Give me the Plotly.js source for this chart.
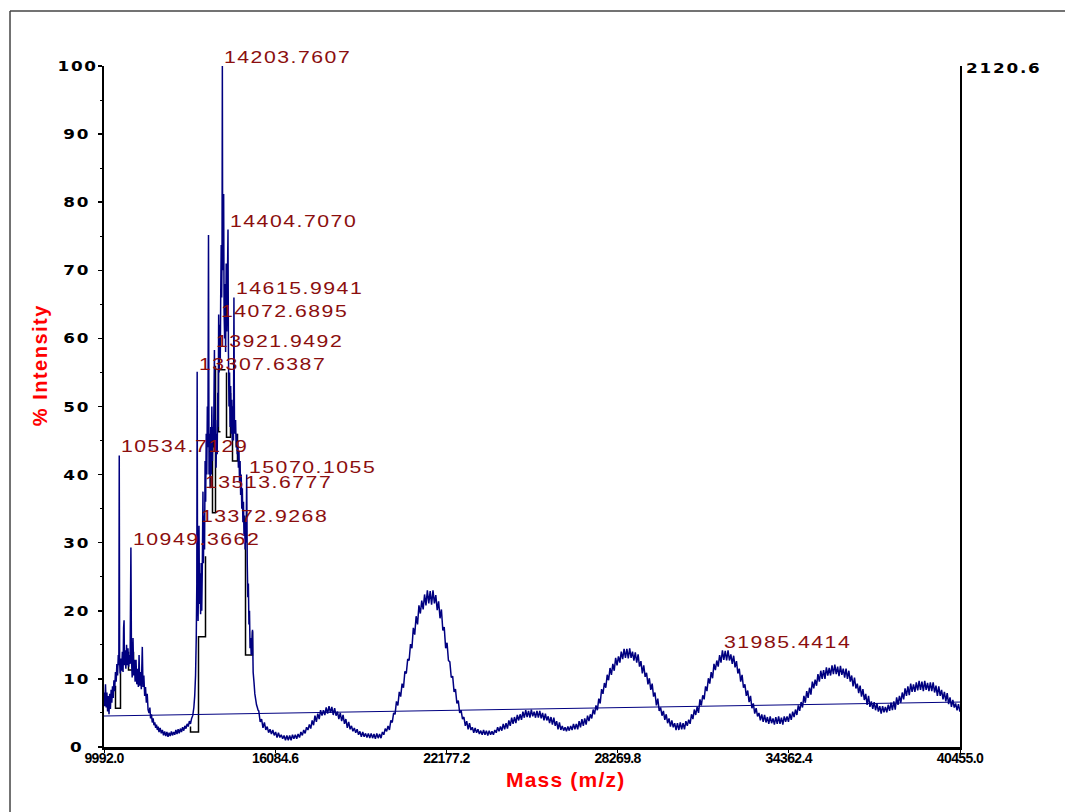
<!DOCTYPE html>
<html><head><meta charset="utf-8">
<script src="https://cdn.plot.ly/plotly-3.0.1.min.js"></script>
<style>
html,body{margin:0;padding:0;background:#fff;}
#chart{width:1065px;height:812px;}
.xtick text{letter-spacing:-0.6px;}
</style></head>
<body><div id="chart"></div>
<script>
// ---- spectrum, low-mass part (m/z, % intensity) ----
const massLow = [
9992,10020,10045,10070,10095,10120,10145,10170,10195,10220,
10245,10270,10295,10320,10345,10370,10400,10425,10450,10475,
10500,10520,10534.7,10548,10570,10595,10620,10645,10670,10690,
10706,10720,10745,10770,10795,10820,10845,10870,10895,10920,
10949.4,10970,10995,11024,11050,11075,11100,11131,11160,11190,
11215,11240,11265,11290,11320,11355,11380,11410,11440,11470,
11500,11530,11560,11594,11625,11650,11680,11710,11740,11770,
11800,11830,11860,11890,11920,11950,11990,12030,12070,12110,
12150,12190,12230,12270,12310,12350,12390,12430,12470,12510,
12550,12590,12630,12670,12710,12750,12790,12830,12870,12910,
12950,12990,13030,13070,13110,13150,13190,13220,13250,13275,
13295,13307.6,13320,13340,13355,13372.9,13390,13410,13430,13450,
13470,13490,13513.7,13530,13550,13570,13590,13610,13630,13650,
13670,13690,13711,13730,13750,13770,13790,13810,13830,13850,
13870,13890,13921.9,13940,13960,13980,14000,14020,14040,14055,
14072.7,14090,14110,14130,14145,14163,14180,14192,14203.8,14215,
14230,14250,14265,14285,14300,14320,14340,14360,14380,14404.7,
14420,14440,14460,14480,14500,14520,14540,14560,14580,14600,
14616,14635,14655,14675,14695,14715,14735,14755,14775,14795,
14815,14835,14855,14875,14895,14915,14935,14955,14975,14995,
15015,15035,15050,15070.1,15090,15110,15130,15150,15170,15190,
15210,15230,15250,15277,15300,15330,15360,15390,15420,15450,
15475];
const intenLow = [
8.0,6.0,9.2,5.8,8.0,5.2,7.5,4.8,7.8,5.6,
8.4,6.5,8.9,7.2,9.8,8.2,11.0,9.6,12.2,10.5,
13.5,12.0,42.8,12.5,10.8,13.0,11.2,14.0,11.0,17.5,
18.6,12.0,14.2,11.5,15.0,12.0,14.5,11.8,13.5,12.2,
29.3,12.8,10.2,16.0,10.5,12.8,9.6,12.8,9.2,11.5,
8.8,13.5,9.0,11.0,8.5,14.7,8.8,10.5,7.5,8.8,
6.5,7.8,5.5,5.0,5.8,4.2,4.8,3.6,4.2,3.2,
3.6,2.8,3.3,2.5,3.0,2.2,2.8,2.0,2.5,1.7,
2.3,1.6,2.2,1.5,2.1,1.6,2.3,1.7,2.2,1.8,
2.5,1.9,2.6,2.0,2.7,2.2,2.9,2.4,3.1,2.7,
3.4,3.0,3.8,3.4,4.2,4.6,5.8,7.5,10.5,16.0,
24.0,55.1,25.0,18.5,24.0,32.5,21.0,25.5,19.5,27.0,
20.0,26.0,37.5,27.0,34.0,29.0,42.0,36.0,46.0,40.0,
50.0,44.0,75.2,40.0,46.0,38.0,47.0,40.0,50.0,42.0,
47.0,44.0,58.3,44.0,48.0,41.0,46.0,43.0,52.0,47.0,
63.5,55.0,62.0,57.0,66.0,73.7,66.0,72.0,100,74.0,
70.0,81.2,64.0,60.0,68.0,58.0,71.0,61.0,67.0,76.0,
58.0,50.0,55.0,47.0,53.0,46.0,51.0,45.0,50.0,45.0,
66.0,47.0,46.0,48.0,44.0,46.0,43.0,45.0,41.0,43.5,
39.0,42.0,37.0,40.0,35.0,38.0,33.0,36.0,31.0,34.0,
29.0,33.0,30.0,40.0,27.0,22.0,24.0,18.0,20.0,14.5,
16.0,13.5,15.0,17.2,11.0,9.5,7.8,7.0,6.2,5.8,
5.4];

// ---- spectrum, high-mass part ----
const massHigh = [
15500,15550,15600,15650,15700,15750,15800,15850,15900,15950,
16000,16050,16100,16150,16200,16250,16300,16350,16400,16450,
16500,16550,16600,16650,16700,16750,16800,16850,16900,16950,
17000,17050,17100,17150,17200,17250,17300,17350,17400,17450,
17500,17550,17600,17650,17700,17750,17800,17850,17900,17950,
18000,18050,18100,18150,18200,18250,18300,18350,18400,18450,
18500,18550,18600,18650,18700,18750,18800,18850,18900,18950,
19000,19050,19100,19150,19200,19250,19300,19350,19400,19450,
19500,19550,19600,19650,19700,19750,19800,19850,19900,19950,
20000,20050,20100,20150,20200,20250,20300,20350,20400,20450,
20500,20550,20600,20650,20700,20750,20800,20850,20900,20950,
21000,21050,21100,21150,21200,21250,21300,21350,21400,21450,
21500,21550,21600,21650,21700,21750,21800,21850,21900,21950,
22000,22050,22100,22150,22200,22250,22300,22350,22400,22450,
22500,22550,22600,22650,22700,22750,22800,22850,22900,22950,
23000,23050,23100,23150,23200,23250,23300,23350,23400,23450,
23500,23550,23600,23650,23700,23750,23800,23850,23900,23950,
24000,24050,24100,24150,24200,24250,24300,24350,24400,24450,
24500,24550,24600,24650,24700,24750,24800,24850,24900,24950,
25000,25050,25100,25150,25200,25250,25300,25350,25400,25450,
25500,25550,25600,25650,25700,25750,25800,25850,25900,25950,
26000,26050,26100,26150,26200,26250,26300,26350,26400,26450,
26500,26550,26600,26650,26700,26750,26800,26850,26900,26950,
27000,27050,27100,27150,27200,27250,27300,27350,27400,27450,
27500,27550,27600,27650,27700,27750,27800,27850,27900,27950,
28000,28050,28100,28150,28200,28250,28300,28350,28400,28450,
28500,28550,28600,28650,28700,28750,28800,28850,28900,28950,
29000,29050,29100,29150,29200,29250,29300,29350,29400,29450,
29500,29550,29600,29650,29700,29750,29800,29850,29900,29950,
30000,30050,30100,30150,30200,30250,30300,30350,30400,30450,
30500,30550,30600,30650,30700,30750,30800,30850,30900,30950,
31000,31050,31100,31150,31200,31250,31300,31350,31400,31450,
31500,31550,31600,31650,31700,31750,31800,31850,31900,31950,
32000,32050,32100,32150,32200,32250,32300,32350,32400,32450,
32500,32550,32600,32650,32700,32750,32800,32850,32900,32950,
33000,33050,33100,33150,33200,33250,33300,33350,33400,33450,
33500,33550,33600,33650,33700,33750,33800,33850,33900,33950,
34000,34050,34100,34150,34200,34250,34300,34350,34400,34450,
34500,34550,34600,34650,34700,34750,34800,34850,34900,34950,
35000,35050,35100,35150,35200,35250,35300,35350,35400,35450,
35500,35550,35600,35650,35700,35750,35800,35850,35900,35950,
36000,36050,36100,36150,36200,36250,36300,36350,36400,36450,
36500,36550,36600,36650,36700,36750,36800,36850,36900,36950,
37000,37050,37100,37150,37200,37250,37300,37350,37400,37450,
37500,37550,37600,37650,37700,37750,37800,37850,37900,37950,
38000,38050,38100,38150,38200,38250,38300,38350,38400,38450,
38500,38550,38600,38650,38700,38750,38800,38850,38900,38950,
39000,39050,39100,39150,39200,39250,39300,39350,39400,39450,
39500,39550,39600,39650,39700,39750,39800,39850,39900,39950,
40000,40050,40100,40150,40200,40250,40300,40350,40400,40450,
40455];
const intenHigh = [
5.3,3.7,4.1,2.8,3.6,2.5,3.0,2.1,2.6,1.9,
2.5,1.7,2.2,1.4,2.1,1.4,1.8,1.2,1.7,1.0,
1.7,1.0,1.7,1.0,1.8,1.2,1.8,1.2,1.9,1.4,
2.2,1.7,2.5,2.0,2.9,2.5,3.3,2.7,3.9,3.2,
4.6,3.7,4.9,4.1,5.4,4.6,5.4,4.7,5.8,4.9,
6.0,5.0,5.9,4.7,5.7,4.6,5.2,4.1,5.0,3.8,
4.7,3.4,4.1,2.8,3.7,2.6,3.1,2.3,2.8,2.1,
2.6,1.8,2.3,1.5,2.2,1.5,2.0,1.4,2.0,1.3,
2.0,1.3,1.9,1.2,2.0,1.3,1.9,1.3,2.2,1.8,
2.7,2.3,3.1,2.5,3.9,3.6,5.0,4.8,6.7,6.1,
8.1,7.4,9.3,8.7,11.1,10.8,12.9,12.7,15.1,14.5,
17.5,16.5,19.2,18.0,20.8,19.6,21.5,20.2,22.4,20.8,
23.0,21.1,22.9,20.9,23.0,21.1,22.3,20.1,21.4,18.9,
20.2,17.1,17.6,14.5,15.3,12.7,12.5,10.2,10.4,8.1,
8.5,6.4,6.8,5.0,5.4,4.1,4.4,3.1,3.8,2.6,
3.5,2.5,2.9,2.1,2.8,2.1,2.6,1.9,2.4,1.8,
2.5,1.8,2.4,1.7,2.4,1.8,2.3,1.8,2.5,2.1,
2.9,2.3,3.0,2.4,3.4,2.6,3.5,2.7,3.9,3.1,
4.3,3.4,4.4,3.5,4.7,3.9,4.8,4.0,5.2,4.3,
5.4,4.4,5.3,4.3,5.5,4.5,5.2,4.3,5.3,4.3,
5.3,4.2,5.0,3.9,4.9,3.9,4.5,3.5,4.4,3.3,
4.3,3.1,3.8,2.6,3.6,2.5,3.1,2.4,2.9,2.3,
3.0,2.4,3.1,2.5,3.4,2.6,3.4,2.6,3.8,2.9,
4.1,3.1,4.2,3.3,4.6,3.8,4.8,4.2,5.5,4.8,
6.1,5.4,7.1,6.4,8.5,7.8,9.4,8.7,10.6,9.8,
11.6,10.6,12.2,11.2,13.1,12.0,13.3,12.4,14.0,12.9,
14.4,13.1,14.4,13.0,14.5,13.1,14.0,12.7,13.9,12.4,
13.6,11.8,12.6,10.8,12.0,10.3,10.9,9.2,10.1,8.4,
9.3,7.4,8.0,6.1,7.1,5.3,5.8,4.6,5.3,4.0,
4.8,3.5,4.2,3.0,3.9,2.9,3.5,2.5,3.5,2.5,
3.6,2.6,3.5,2.6,3.8,3.1,4.0,3.4,4.8,4.1,
5.5,4.7,5.9,5.0,7.0,6.1,7.6,7.0,8.9,8.2,
10.1,9.3,11.0,10.1,12.2,11.3,12.7,11.8,13.5,12.4,
14.2,12.8,14.1,12.7,14.2,12.7,13.6,12.2,13.4,11.7,
12.6,10.8,11.5,9.6,10.6,8.7,9.2,7.5,8.3,6.6,
7.5,5.7,6.4,4.9,5.7,4.5,5.0,3.9,4.8,3.7,
4.7,3.6,4.4,3.4,4.5,3.5,4.2,3.3,4.4,3.4,
4.5,3.4,4.3,3.3,4.5,3.7,4.5,3.7,4.9,4.0,
5.2,4.4,5.5,4.7,6.1,5.3,6.6,5.8,7.5,6.5,
8.2,7.2,8.7,7.7,9.6,8.6,9.9,9.0,10.7,9.6,
11.2,10.0,11.3,10.0,11.7,10.5,11.6,10.5,12.0,10.7,
12.1,10.7,11.8,10.4,11.9,10.6,11.5,10.2,11.5,10.0,
11.2,9.6,10.5,8.9,10.2,8.6,9.3,7.9,9.0,7.4,
8.5,6.9,7.8,6.2,7.5,5.9,6.7,5.6,6.6,5.4,
6.4,5.2,6.0,4.9,6.0,5.1,5.9,5.1,6.2,5.3,
6.5,5.4,6.7,5.5,7.3,6.2,7.5,6.5,8.0,7.0,
8.6,7.5,8.9,7.6,9.3,8.1,9.2,8.1,9.5,8.3,
9.7,8.4,9.6,8.2,9.7,8.4,9.4,8.2,9.5,8.2,
9.5,8.0,9.0,7.5,8.9,7.5,8.4,7.0,8.1,6.7,
7.9,6.3,7.3,5.9,6.9,5.8,6.4,5.4,6.3,5.2,
5.8];

// ---- baseline fit ----
const baselineMass = [9992.0, 40455.0];
const baselineInten = [4.55, 6.6];

// ---- peak-integration outline (null = break) ----
const stepMass = [10401,10401,10579,10579,null, 10864,10864,11042,11042,null,
  13070,13070,13355,13355,13604,13604,null, 13853,13853,13960,13960,null,
  14067,14067,14138,null, 14067,14316,null, 14352,14352,14494,14494,null,
  14565,14565,14743,14743,null, 15028,15028,15277,15277];
const stepInten = [9,5.7,5.7,12,null, 14,11.3,11.3,14,null,
  3,2.2,2.2,16.2,16.2,28,null, 45,34.4,34.4,56,null,
  55.4,46.3,46.3,null, 55.4,55.4,null, 55,45.5,45.5,52,null,
  50,42,42,46,null, 30,13.5,13.5,17];

// ---- labelled peaks ----
const peakMass = [14203.7607, 14404.7070, 14615.9941, 14072.6895, 13921.9492, 13307.6387,
  10534.7129, 15070.1055, 13513.6777, 13372.9268, 10949.3662, 31985.4414];
const peakLabelLevel = [100, 77.1, 67.3, 64.0, 59.5, 56.2, 44.1, 41.0, 38.8, 33.8, 30.5, 15.3];

// ---- axes ----
const xTickVals = [9992.0, 16084.6, 22177.2, 28269.8, 34362.4, 40455.0];
const yTickVals = [0, 10, 20, 30, 40, 50, 60, 70, 80, 90, 100];
const rightAxisLabel = '2120.6';
const xTitle = 'Mass (m/z)';
const yTitle = '% Intensity';

const navy = '#000080';
const labelRed = '#8b0e0e';

const annotations = [];
const fx = []; // per-annotation text styling: {s: scaleX, ls: letter-spacing, o: origin}

peakMass.forEach((m, i) => {
  annotations.push({
    x: m, y: peakLabelLevel[i], xref: 'x', yref: 'y',
    text: m.toFixed(4), showarrow: false, xanchor: 'left', yanchor: 'middle', align: 'left',
    yshift: i === 0 ? 9 : 0,
    font: {family: 'Liberation Sans', size: 17, color: labelRed}
  });
  fx.push({s: 1.25, ls: 1.2, o: 'left'});
});
yTickVals.forEach(v => {
  annotations.push({
    x: -0.031, y: v, xref: 'paper', yref: 'y', text: String(v), showarrow: false,
    xanchor: 'center', yanchor: 'middle', align: 'center',
    font: {family: 'DejaVu Sans', size: 14, color: '#000', weight: 'bold'}
  });
  fx.push({s: 1.2, ls: 1.5, o: 'center'});
});
annotations.push({
  x: 1.005, y: 0.997, xref: 'paper', yref: 'paper', text: rightAxisLabel, showarrow: false,
  xanchor: 'left', yanchor: 'middle', align: 'left',
  font: {family: 'DejaVu Sans', size: 14, color: '#000', weight: 'bold'}
});
fx.push({s: 1.2, ls: 1.5, o: 'left'});
annotations.push({
  x: 0.5386, y: -0.047, xref: 'paper', yref: 'paper', text: xTitle, showarrow: false,
  xanchor: 'center', yanchor: 'middle',
  font: {family: 'Liberation Sans', size: 21, color: '#ff0000', weight: 'bold'}
});
fx.push({s: 1, ls: 1.2, o: 'center'});
annotations.push({
  x: -0.0748, y: 0.561, xref: 'paper', yref: 'paper', text: yTitle, showarrow: false,
  textangle: -90, xanchor: 'center', yanchor: 'middle',
  font: {family: 'Liberation Sans', size: 20, color: '#ff0000', weight: 'bold'}
});
fx.push({s: 1, ls: 1.5, o: 'center'});

const traces = [
  {x: stepMass, y: stepInten, type: 'scatter', mode: 'lines',
   line: {color: '#000', width: 1.5}, connectgaps: false, hoverinfo: 'skip'},
  {x: massLow.concat(massHigh), y: intenLow.concat(intenHigh), type: 'scatter', mode: 'lines',
   line: {color: navy, width: 1.5, simplify: false}, hoverinfo: 'skip'},
  {x: baselineMass, y: baselineInten, type: 'scatter', mode: 'lines',
   line: {color: navy, width: 1}, hoverinfo: 'skip'}
];

const layout = {
  width: 1065, height: 812,
  margin: {l: 104, r: 105, t: 66, b: 65},
  paper_bgcolor: '#fff', plot_bgcolor: '#fff',
  showlegend: false, hovermode: false,
  xaxis: {
    range: [9992, 40455], showgrid: false, zeroline: false,
    showline: true, linecolor: '#000', linewidth: 2.5,
    ticks: 'outside', ticklen: 3, tickwidth: 1, tickcolor: '#000',
    ticklabelstandoff: -6,
    tickmode: 'array', tickvals: xTickVals, ticktext: xTickVals.map(v => v.toFixed(1)),
    tickfont: {family: 'Liberation Sans Narrow, Arial Narrow, Liberation Sans', size: 14, color: '#000', weight: 'bold'},
    fixedrange: true
  },
  yaxis: {
    range: [0, 100], showgrid: false, zeroline: false,
    showline: true, mirror: true, linecolor: '#000', linewidth: 2,
    ticks: 'outside', ticklen: 4, tickwidth: 1.5, tickcolor: '#000',
    tick0: 0, dtick: 10, showticklabels: false,
    minor: {ticks: 'outside', ticklen: 2, dtick: 5, tickwidth: 1, tickcolor: '#000'},
    fixedrange: true
  },
  annotations: annotations,
  shapes: [
    {type: 'line', xref: 'paper', yref: 'paper', x0: -0.1098, x1: 1.3, y0: 1.0808, y1: 1.0808,
     line: {color: '#444', width: 1.5}},
    {type: 'line', xref: 'paper', yref: 'paper', x0: -0.1098, x1: -0.1098, y0: 1.0808, y1: -0.3,
     line: {color: '#444', width: 1.5}}
  ]
};

Plotly.newPlot('chart', traces, layout, {displayModeBar: false, staticPlot: true}).then(gd => {
  gd.querySelectorAll('g.annotation').forEach(g => {
    const i = +g.getAttribute('data-index');
    const t = g.querySelector('text');
    const f = fx[i];
    if (!t || !f) return;
    t.style.letterSpacing = f.ls + 'px';
    if (f.s !== 1) {
      const bb = t.getBBox();
      const cx = f.o === 'left' ? bb.x : bb.x + bb.width / 2;
      t.setAttribute('transform', `translate(${cx},0) scale(${f.s},1) translate(${-cx},0)`);
    }
  });
});
</script>
</body></html>
